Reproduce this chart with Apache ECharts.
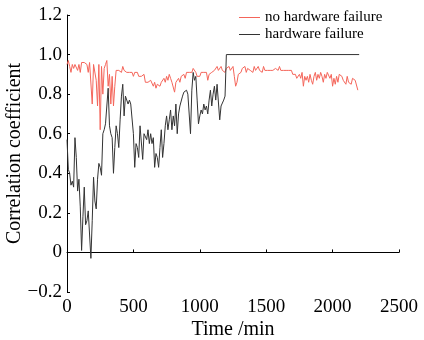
<!DOCTYPE html>
<html>
<head>
<meta charset="utf-8">
<script src="https://cdn.jsdelivr.net/npm/echarts@6/dist/echarts.min.js"></script>
<style>
  html, body { margin: 0; padding: 0; background: #fff; }
  #chart { width: 424px; height: 340px; }
</style>
</head>
<body>
<div id="chart"></div>
<script>
// sampling step of both series (min)
const stepMin = 10;

// no hardware failure (red), one value every 10 min from 0
const noFailureValues = [
  0.95, 0.97, 0.94, 0.91, 0.95, 0.93, 0.95, 0.94, 0.92, 0.95,
  0.91, 0.96, 0.97, 0.96, 0.96, 0.95, 0.91, 0.96, 0.97, 0.75,
  0.95, 0.94, 0.87, 0.74, 0.95, 0.62, 0.94, 0.80, 0.93, 0.95,
  0.97, 0.84, 0.90, 0.75, 0.89, 0.74, 0.84, 0.92, 0.93, 0.92,
  0.93, 0.91, 0.94, 0.92, 0.93, 0.91, 0.92, 0.91, 0.91, 0.91,
  0.89, 0.91, 0.90, 0.91, 0.89, 0.90, 0.89, 0.88, 0.90, 0.86,
  0.85, 0.86, 0.85, 0.87, 0.86, 0.84, 0.86, 0.83, 0.85, 0.86,
  0.84, 0.86, 0.86, 0.88, 0.86, 0.89, 0.87, 0.90, 0.88, 0.86,
  0.85, 0.81, 0.86, 0.87, 0.88, 0.86, 0.89, 0.88, 0.90, 0.88,
  0.91, 0.90, 0.91, 0.90, 0.91, 0.93, 0.92, 0.91, 0.89, 0.90,
  0.89, 0.91, 0.90, 0.91, 0.91, 0.91, 0.87, 0.90, 0.89, 0.91,
  0.91, 0.92, 0.93, 0.94, 0.92, 0.91, 0.94, 0.92, 0.93, 0.91,
  0.93, 0.92, 0.94, 0.92, 0.93, 0.94, 0.89, 0.84, 0.86, 0.90,
  0.91, 0.91, 0.93, 0.92, 0.94, 0.91, 0.93, 0.94, 0.92, 0.93,
  0.91, 0.94, 0.92, 0.93, 0.94, 0.92, 0.93, 0.91, 0.94, 0.92,
  0.93, 0.92, 0.93, 0.92, 0.93, 0.92, 0.93, 0.93, 0.93, 0.92,
  0.94, 0.92, 0.93, 0.92, 0.93, 0.92, 0.91, 0.92, 0.91, 0.92,
  0.90, 0.91, 0.90, 0.88, 0.89, 0.90, 0.88, 0.91, 0.84, 0.89,
  0.87, 0.89, 0.86, 0.90, 0.87, 0.85, 0.89, 0.91, 0.87, 0.90,
  0.88, 0.91, 0.89, 0.86, 0.90, 0.88, 0.91, 0.91, 0.88, 0.90,
  0.84, 0.88, 0.85, 0.89, 0.86, 0.90, 0.91, 0.89, 0.87, 0.88,
  0.85, 0.89, 0.86, 0.87, 0.85, 0.88, 0.89, 0.87, 0.88, 0.82
];

// hardware failure (black), one value every 10 min from 0 to 1200
const failureValues = [
  0.57, 0.42, 0.40, 0.34, 0.36, 0.33, 0.58, 0.48, 0.31, 0.37,
  0.23, 0.01, 0.18, 0.33, 0.14, 0.16, 0.21, 0.20, -0.03, 0.16,
  0.38, 0.26, 0.22, 0.37, 0.45, 0.43, 0.39, 0.60, 0.62, 0.65,
  0.74, 0.83, 0.64, 0.60, 0.58, 0.40, 0.53, 0.64, 0.60, 0.53,
  0.67, 0.79, 0.85, 0.69, 0.79, 0.80, 0.75, 0.77, 0.75, 0.74,
  0.60, 0.43, 0.55, 0.53, 0.48, 0.64, 0.65, 0.47, 0.60, 0.61,
  0.57, 0.62, 0.55, 0.60, 0.55, 0.58, 0.43, 0.50, 0.48, 0.43,
  0.53, 0.62, 0.48, 0.55, 0.64, 0.69, 0.62, 0.67, 0.72, 0.62,
  0.69, 0.64, 0.75, 0.60, 0.70, 0.74, 0.75, 0.79, 0.81, 0.81,
  0.82, 0.80, 0.81, 0.60, 0.82, 0.91, 0.87, 0.89, 0.77, 0.65,
  0.69, 0.72, 0.70, 0.75, 0.72, 0.74, 0.70, 0.77, 0.82, 0.74,
  0.80, 0.84, 0.77, 0.85, 0.86, 0.67, 0.74, 0.75, 0.77, 0.79,
  1.00
];
// after the jump the curve stays flat until the end
const failureTail = [[2200, 1.0]];

const seriesNames = ['no hardware failure', 'hardware failure'];

const serif = '"Liberation Serif", "Times New Roman", serif';

const chart = echarts.init(document.getElementById('chart'));

const toPairs = (vals) => vals.map((v, i) => [i * stepMin, v]);

chart.setOption({
  animation: false,
  grid: { left: 67, right: 25, top: 15, bottom: 48, containLabel: false, outerBoundsMode: 'none' },
  legend: {
    orient: 'vertical',
    left: 234,
    top: 4,
    itemGap: 0,
    itemWidth: 21,
    itemHeight: 1,
    icon: 'rect',
    textStyle: { fontFamily: serif, fontSize: 15, color: '#000', lineHeight: 17 },
    data: seriesNames
  },
  xAxis: {
    type: 'value',
    min: 0,
    max: 2500,
    interval: 500,
    name: 'Time /min',
    nameLocation: 'middle',
    nameGap: 28,
    nameMoveOverlap: false,
    nameTextStyle: { fontFamily: serif, fontSize: 20, color: '#000' },
    axisLine: { lineStyle: { color: '#000', width: 1 } },
    axisTick: { inside: true, length: 3, lineStyle: { color: '#000' } },
    axisLabel: { fontFamily: serif, fontSize: 19, color: '#000', margin: 6, formatter: (v) => String(v) },
    splitLine: { show: false }
  },
  yAxis: {
    type: 'value',
    min: -0.2,
    max: 1.2,
    interval: 0.2,
    name: 'Correlation coefficient',
    nameLocation: 'middle',
    nameGap: 42,
    nameMoveOverlap: false,
    nameTextStyle: { fontFamily: serif, fontSize: 20, color: '#000' },
    axisLine: { show: true, lineStyle: { color: '#000', width: 1 } },
    axisTick: { show: true, inside: true, length: 3, lineStyle: { color: '#000' } },
    axisLabel: {
      fontFamily: serif,
      fontSize: 19,
      color: '#000',
      margin: 5,
      formatter: (v) => {
        const r = Math.round(v * 10) / 10;
        if (r === 0) return '0';
        return (r < 0 ? '\u2212' : '') + Math.abs(r).toFixed(1);
      }
    },
    splitLine: { show: false }
  },
  series: [
    {
      name: seriesNames[0],
      type: 'line',
      showSymbol: false,
      data: toPairs(noFailureValues),
      lineStyle: { color: '#f4655a', width: 1 },
      itemStyle: { color: '#f4655a' },
      z: 2
    },
    {
      name: seriesNames[1],
      type: 'line',
      showSymbol: false,
      data: toPairs(failureValues).concat(failureTail),
      lineStyle: { color: '#333', width: 1 },
      itemStyle: { color: '#333' },
      z: 3
    }
  ]
});
</script>
</body>
</html>
